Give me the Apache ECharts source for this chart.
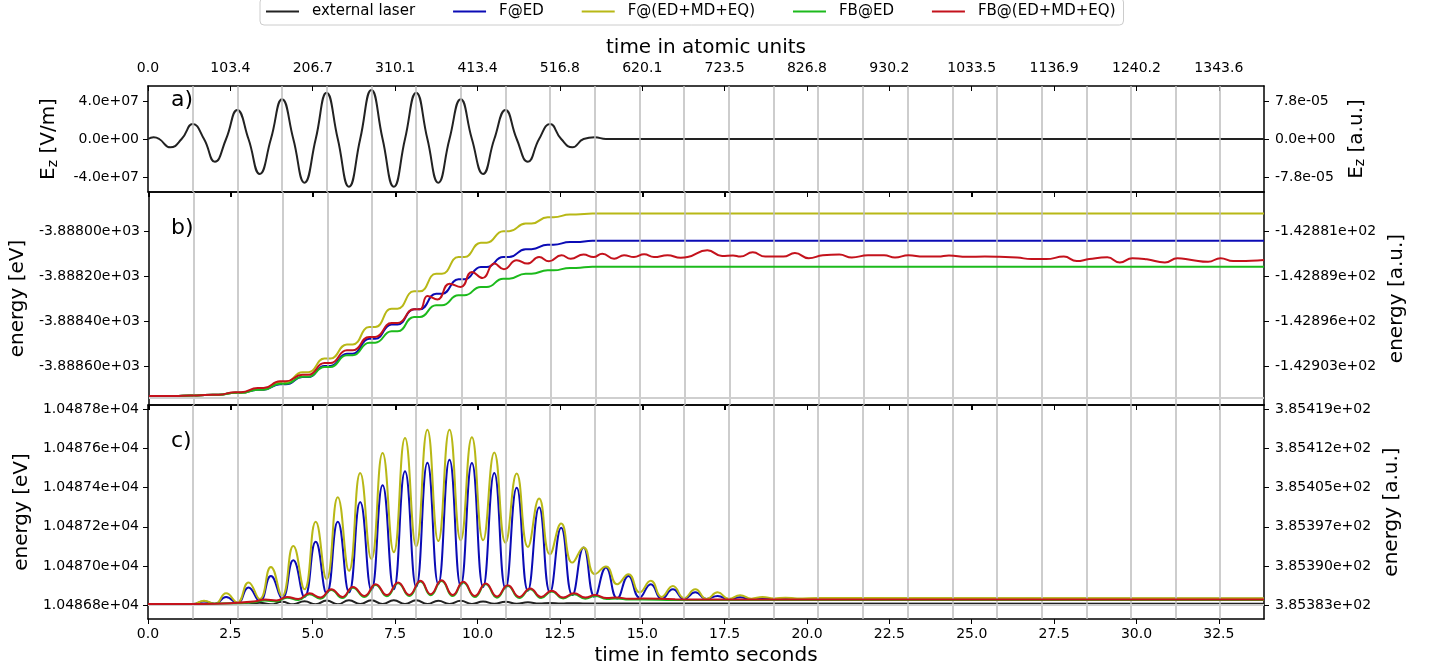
<!DOCTYPE html>
<html><head><meta charset="utf-8">
<script src="https://cdn.jsdelivr.net/npm/echarts@6/dist/echarts.min.js"></script>
<style>html,body{margin:0;padding:0;background:#fff}#c{width:1434px;height:669px}</style>
</head><body><div id="c"></div><script>
const FONT = 'DejaVu Sans';
const T_MAX = 33.87;
const seriesNames = ['external laser', 'F@ED', 'F@(ED+MD+EQ)', 'FB@ED', 'FB@(ED+MD+EQ)'];
const seriesColors = ['#222222', '#0b0bb5', '#b8b816', '#1cba1c', '#c4121c'];

// x ticks (fs) and their atomic-unit labels
const fsTicks = [0, 2.5, 5, 7.5, 10, 12.5, 15, 17.5, 20, 22.5, 25, 27.5, 30, 32.5];
const fsTickLabels = ['0.0','2.5','5.0','7.5','10.0','12.5','15.0','17.5','20.0','22.5','25.0','27.5','30.0','32.5'];
const auTickLabels = ['0.0','103.4','206.7','310.1','413.4','516.8','620.1','723.5','826.8','930.2','1033.5','1136.9','1240.2','1343.6'];
// vertical reference lines (laser cycles, fs)
const cycleTimes = [1.36, 2.71, 4.07, 5.42, 6.78, 8.14, 9.49, 10.85, 12.20, 13.56, 14.92, 16.27, 17.63, 18.98, 20.34, 21.70, 23.05, 24.41, 25.76, 27.12, 28.48, 29.83, 31.19, 32.54];

// y ticks
const aTickVals = [-4e7, 0, 4e7];
const aLeftLabels = ['-4.0e+07', '0.0e+00', '4.0e+07'];
const aRightLabels = ['-7.8e-05', '0.0e+00', '7.8e-05'];
const bTickVals = [-3888.6, -3888.4, -3888.2, -3888.0];
const bLeftLabels = ['-3.88860e+03', '-3.88840e+03', '-3.88820e+03', '-3.88800e+03'];
const bRightLabels = ['-1.42903e+02', '-1.42896e+02', '-1.42889e+02', '-1.42881e+02'];
const cTickVals = [10486.8, 10487.0, 10487.2, 10487.4, 10487.6, 10487.8];
const cLeftLabels = ['1.04868e+04', '1.04870e+04', '1.04872e+04', '1.04874e+04', '1.04876e+04', '1.04878e+04'];
const cRightLabels = ['3.85383e+02', '3.85390e+02', '3.85397e+02', '3.85405e+02', '3.85412e+02', '3.85419e+02'];

// panel a: external laser field E_z [V/m] (t in fs)
const laserA = [[0,0],[0.17,0.18e7],[0.34,0],[0.68,-0.88e7],[1.02,0],[1.36,1.58e7],[1.70,0],[2.03,-2.39e7],[2.37,0],[2.71,3.05e7],[3.05,0],[3.39,-3.68e7],[3.73,0],[4.07,4.18e7],[4.41,0],[4.75,-4.6e7],[5.09,0],[5.42,4.87e7],[5.76,0],[6.10,-5.02e7],[6.44,0],[6.78,5.16e7],[7.12,0],[7.46,-5.02e7],[7.80,0],[8.14,4.87e7],[8.48,0],[8.81,-4.6e7],[9.15,0],[9.49,4.18e7],[9.83,0],[10.17,-3.68e7],[10.51,0],[10.85,3.05e7],[11.19,0],[11.53,-2.39e7],[11.87,0],[12.20,1.58e7],[12.54,0],[12.88,-0.88e7],[13.22,0],[13.56,0.18e7],[13.90,0],[33.87,0]];

// panel b: plateau levels per half-cycle (eV)
const bStepT = [0, 0.68, 1.36, 2.03, 2.71, 3.39, 4.07, 4.75, 5.42, 6.10, 6.78, 7.46, 8.14, 8.81, 9.49, 10.17, 10.85, 11.53, 12.20, 12.88, 13.56];
const yellowB = [-3888.733, -3888.733, -3888.731, -3888.727, -3888.719, -3888.703, -3888.671, -3888.627, -3888.567, -3888.504, -3888.427, -3888.345, -3888.268, -3888.190, -3888.116, -3888.052, -3888.001, -3887.967, -3887.939, -3887.927, -3887.923];
const blueB = [-3888.733, -3888.733, -3888.731, -3888.727, -3888.719, -3888.705, -3888.681, -3888.649, -3888.600, -3888.545, -3888.479, -3888.415, -3888.348, -3888.279, -3888.215, -3888.160, -3888.116, -3888.081, -3888.061, -3888.049, -3888.044];
const greenB = [-3888.733, -3888.733, -3888.731, -3888.727, -3888.719, -3888.705, -3888.679, -3888.648, -3888.604, -3888.552, -3888.496, -3888.446, -3888.382, -3888.330, -3888.286, -3888.249, -3888.212, -3888.190, -3888.175, -3888.164, -3888.159];
const redBStep = [-3888.733, -3888.733, -3888.731, -3888.727, -3888.716, -3888.698, -3888.668, -3888.639, -3888.587, -3888.530, -3888.471, -3888.409, -3888.348];
const redBTail = [[8.46,-3888.289],[8.76,-3888.304],[9.13,-3888.234],[9.47,-3888.249],[9.81,-3888.182],[10.13,-3888.209],[10.49,-3888.145],[10.78,-3888.170],[11.17,-3888.130],[11.49,-3888.145],[11.85,-3888.116],[12.15,-3888.135],[12.53,-3888.108],[12.81,-3888.123],[13.2,-3888.105],[13.5,-3888.116],[13.77,-3888.101],[14.13,-3888.123],[14.43,-3888.108],[14.73,-3888.116],[15.04,-3888.104],[15.34,-3888.116],[15.75,-3888.108],[16.15,-3888.119],[16.36,-3888.116],[16.96,-3888.086],[17.41,-3888.111],[17.74,-3888.109],[17.96,-3888.114],[18.34,-3888.095],[18.72,-3888.114],[19.27,-3888.114],[19.62,-3888.098],[20.04,-3888.121],[20.47,-3888.108],[20.97,-3888.105],[21.35,-3888.118],[21.84,-3888.108],[22.33,-3888.108],[22.66,-3888.118],[23.07,-3888.108],[23.53,-3888.114],[23.97,-3888.114],[24.3,-3888.109],[24.85,-3888.115],[25.39,-3888.114],[25.83,-3888.115],[26.37,-3888.118],[26.81,-3888.125],[27.25,-3888.125],[27.79,-3888.114],[28.18,-3888.134],[28.56,-3888.125],[29.11,-3888.117],[29.49,-3888.140],[29.87,-3888.121],[30.31,-3888.126],[30.86,-3888.140],[31.24,-3888.121],[31.67,-3888.129],[32.17,-3888.137],[32.55,-3888.121],[32.93,-3888.134],[33.48,-3888.132],[33.87,-3888.129]];
const bBaseline = -3888.737;

// panel c (eV)
const blackC = [[0,10486.805],[2.03,10486.805],[2.37,10486.804],[2.71,10486.809],[3.05,10486.804],[3.39,10486.812],[3.73,10486.804],[4.07,10486.817],[4.41,10486.804],[4.75,10486.820],[5.09,10486.804],[5.42,10486.824],[5.76,10486.804],[6.10,10486.825],[6.44,10486.805],[6.78,10486.825],[7.12,10486.805],[7.46,10486.825],[7.80,10486.805],[8.14,10486.825],[8.48,10486.805],[8.81,10486.822],[9.15,10486.806],[9.49,10486.822],[9.83,10486.806],[10.17,10486.818],[10.51,10486.807],[10.85,10486.817],[11.19,10486.807],[11.53,10486.814],[11.87,10486.808],[12.20,10486.811],[12.54,10486.808],[12.88,10486.810],[13.3,10486.808],[33.87,10486.807]];
const blueC = [[0,10486.805],[0.68,10486.805],[1.36,10486.805],[1.70,10486.819],[2.03,10486.806],[2.37,10486.842],[2.71,10486.810],[3.05,10486.890],[3.39,10486.820],[3.73,10486.949],[4.07,10486.834],[4.41,10487.029],[4.75,10486.842],[5.09,10487.124],[5.42,10486.860],[5.76,10487.226],[6.10,10486.865],[6.44,10487.326],[6.78,10486.876],[7.12,10487.412],[7.46,10486.881],[7.80,10487.483],[8.14,10486.893],[8.48,10487.527],[8.81,10486.907],[9.15,10487.543],[9.49,10486.898],[9.83,10487.526],[10.17,10486.893],[10.51,10487.475],[10.85,10486.885],[11.19,10487.399],[11.53,10486.873],[11.87,10487.300],[12.20,10486.865],[12.54,10487.195],[12.88,10486.851],[13.22,10487.094],[13.56,10486.842],[13.90,10486.992],[14.24,10486.834],[14.58,10486.949],[14.92,10486.839],[15.26,10486.907],[15.59,10486.831],[15.93,10486.881],[16.27,10486.831],[16.61,10486.865],[16.95,10486.831],[17.29,10486.847],[17.63,10486.829],[17.97,10486.840],[18.31,10486.829],[18.65,10486.836],[19.00,10486.830],[19.35,10486.834],[19.70,10486.831],[20.40,10486.832],[33.87,10486.832]];
const yellowC = [[0,10486.805],[0.68,10486.805],[1.36,10486.805],[1.70,10486.822],[2.03,10486.806],[2.37,10486.860],[2.71,10486.814],[3.05,10486.916],[3.39,10486.831],[3.73,10486.995],[4.07,10486.847],[4.41,10487.102],[4.75,10486.881],[5.09,10487.226],[5.42,10486.932],[5.76,10487.351],[6.10,10486.975],[6.44,10487.475],[6.78,10487.035],[7.12,10487.577],[7.46,10487.070],[7.80,10487.653],[8.14,10487.100],[8.48,10487.696],[8.81,10487.127],[9.15,10487.696],[9.49,10487.131],[9.83,10487.657],[10.17,10487.131],[10.51,10487.580],[10.85,10487.119],[11.19,10487.472],[11.53,10487.097],[11.87,10487.345],[12.20,10487.060],[12.54,10487.217],[12.88,10487.017],[13.22,10487.094],[13.56,10486.958],[13.90,10486.997],[14.24,10486.907],[14.58,10486.958],[14.92,10486.865],[15.26,10486.924],[15.59,10486.842],[15.93,10486.898],[16.27,10486.836],[16.61,10486.881],[16.95,10486.831],[17.29,10486.865],[17.63,10486.832],[17.97,10486.850],[18.31,10486.833],[18.65,10486.842],[19.00,10486.834],[19.35,10486.838],[19.70,10486.834],[20.40,10486.836],[33.87,10486.835]];
const greenC = [[0,10486.805],[1.5,10486.806],[2.5,10486.809],[3.2,10486.815],[3.55,10486.824],[3.9,10486.819],[4.22,10486.838],[4.56,10486.826],[4.90,10486.856],[5.23,10486.833],[5.56,10486.877],[5.90,10486.836],[6.22,10486.889],[6.57,10486.841],[6.91,10486.903],[7.25,10486.845],[7.59,10486.912],[7.93,10486.846],[8.27,10486.920],[8.58,10486.850],[8.91,10486.923],[9.25,10486.846],[9.57,10486.915],[9.92,10486.841],[10.25,10486.906],[10.59,10486.838],[10.92,10486.898],[11.27,10486.836],[11.60,10486.881],[11.93,10486.836],[12.25,10486.869],[12.60,10486.834],[12.93,10486.856],[13.27,10486.833],[13.57,10486.847],[13.92,10486.831],[14.23,10486.834],[14.6,10486.828],[15.0,10486.829],[16.0,10486.826],[17.0,10486.826],[33.87,10486.826]];
const redC = [[0,10486.805],[1.5,10486.806],[2.5,10486.810],[3.2,10486.818],[3.55,10486.828],[3.9,10486.824],[4.22,10486.842],[4.56,10486.831],[4.90,10486.860],[5.23,10486.839],[5.56,10486.881],[5.90,10486.842],[6.22,10486.893],[6.57,10486.847],[6.91,10486.907],[7.25,10486.851],[7.59,10486.916],[7.93,10486.852],[8.27,10486.924],[8.58,10486.856],[8.91,10486.927],[9.25,10486.852],[9.57,10486.919],[9.92,10486.847],[10.25,10486.910],[10.59,10486.844],[10.92,10486.902],[11.27,10486.842],[11.60,10486.885],[11.93,10486.842],[12.25,10486.873],[12.60,10486.839],[12.93,10486.860],[13.27,10486.839],[13.57,10486.851],[13.92,10486.836],[14.23,10486.839],[14.6,10486.832],[15.0,10486.834],[16.0,10486.830],[17.0,10486.829],[33.87,10486.828]];
const cBaseline = 10486.803;

// ---- build ----
function stairs(ts, vs, half) {
  const out = [];
  for (let i = 0; i < vs.length; i++) {
    if (ts[i] === 0) out.push([0, vs[i]]);
    else { out.push([ts[i] - half, vs[i]]); out.push([ts[i] + half, vs[i]]); }
  }
  return out;
}
const HALF = 0.09;
const yellowBData = stairs(bStepT, yellowB, HALF).concat([[T_MAX, yellowB[yellowB.length - 1]]]);
const blueBData = stairs(bStepT, blueB, HALF).concat([[T_MAX, blueB[blueB.length - 1]]]);
const greenBData = stairs(bStepT, greenB, HALF).concat([[T_MAX, greenB[greenB.length - 1]]]);
const redBData = stairs(bStepT, redBStep, HALF).concat(redBTail);

function lookup(vals, labels, tol) {
  return function (v) {
    for (let i = 0; i < vals.length; i++) if (Math.abs(vals[i] - v) < tol) return labels[i];
    return '';
  };
}
const tickStyle = { color: '#000', width: 1 };
const lblStyle = { fontFamily: FONT, fontSize: 14, color: '#000' };
const nameStyle = { fontFamily: FONT, fontSize: 20, color: '#000',
  rich: { e: { fontFamily: FONT, fontSize: 20, color: '#000' }, s: { fontFamily: FONT, fontSize: 14, color: '#000', padding: [9, 0, 0, 0] } } };

function xAx(grid, pos, opts) {
  return Object.assign({
    type: 'value', gridIndex: grid, position: pos, min: 0, max: T_MAX,
    axisLine: { show: true, onZero: false, lineStyle: { color: '#000', width: 1.5 } },
    axisTick: { show: true, customValues: fsTicks, length: 5, inside: pos === 'top', lineStyle: tickStyle },
    axisLabel: { show: false },
    splitLine: { show: false }
  }, opts || {});
}
function yAx(grid, pos, min, max, vals, labels, tol, name, gap) {
  return {
    type: 'value', gridIndex: grid, position: pos, min: min, max: max,
    axisLine: { show: true, onZero: false, lineStyle: { color: '#000', width: 1.5 } },
    axisTick: { show: true, customValues: vals, length: 5, lineStyle: tickStyle },
    axisLabel: Object.assign({ customValues: vals, formatter: lookup(vals, labels, tol), margin: pos === 'left' ? 9 : 11 }, lblStyle),
    splitLine: { show: false },
    name: name, nameLocation: 'middle', nameRotate: 90, nameGap: gap, nameTextStyle: nameStyle
  };
}

const grids = [
  { left: 148, right: 170, top: 86, height: 106 },
  { left: 148, right: 170, top: 192, height: 213 },
  { left: 148, right: 170, top: 405, height: 214 }
];
const xAxes = [
  xAx(0, 'top', {
    axisLabel: Object.assign({ show: true, customValues: fsTicks, formatter: lookup(fsTicks, auTickLabels, 1e-6), margin: 11 }, lblStyle),
    name: 'time in atomic units', nameLocation: 'middle', nameGap: 28, nameTextStyle: { fontFamily: FONT, fontSize: 20, color: '#000' }
  }),
  xAx(0, 'bottom'),
  xAx(1, 'top'),
  xAx(1, 'bottom'),
  xAx(2, 'top'),
  xAx(2, 'bottom', {
    axisLabel: Object.assign({ show: true, customValues: fsTicks, formatter: lookup(fsTicks, fsTickLabels, 1e-6), margin: 8 }, lblStyle),
    name: 'time in femto seconds', nameLocation: 'middle', nameGap: 27, nameTextStyle: { fontFamily: FONT, fontSize: 20, color: '#000' }
  })
];
const yAxes = [
  yAx(0, 'left', -5.58e7, 5.58e7, aTickVals, aLeftLabels, 1e5, '{e|E}{s|z}{e| [V/m]}', 88),
  yAx(0, 'right', -5.58e7, 5.58e7, aTickVals, aRightLabels, 1e5, '{e|E}{s|z}{e| [a.u.]}', 80),
  yAx(1, 'left', -3888.773, -3887.827, bTickVals, bLeftLabels, 1e-3, 'energy [eV]', 120),
  yAx(1, 'right', -3888.773, -3887.827, bTickVals, bRightLabels, 1e-3, 'energy [a.u.]', 120),
  yAx(2, 'left', 10486.729, 10487.822, cTickVals, cLeftLabels, 1e-3, 'energy [eV]', 116),
  yAx(2, 'right', 10486.729, 10487.822, cTickVals, cRightLabels, 1e-3, 'energy [a.u.]', 114)
];

function helper(xi, yi, hline) {
  const d = cycleTimes.map(t => ({ xAxis: t }));
  const s = {
    type: 'line', name: '_ref', xAxisIndex: xi, yAxisIndex: yi, data: [], silent: true, z: 1,
    markLine: { silent: true, symbol: ['none', 'none'], label: { show: false }, animation: false,
      lineStyle: { color: '#bdbdbd', width: 1.5, type: 'solid' }, data: d }
  };
  if (hline !== undefined) d.push({ yAxis: hline, lineStyle: { color: '#cfcfcf', width: 2, type: 'solid' } });
  return s;
}
function line(idx, xi, yi, data, smooth) {
  return {
    type: 'line', name: seriesNames[idx], xAxisIndex: xi, yAxisIndex: yi, data: data,
    showSymbol: false, symbol: 'none', smooth: smooth, z: 2 + idx,
    lineStyle: { color: seriesColors[idx], width: 2 }, itemStyle: { color: seriesColors[idx] },
    emphasis: { disabled: true }, animation: false
  };
}

const series = [
  helper(1, 0),
  helper(3, 2, bBaseline),
  helper(5, 4, cBaseline),
  line(0, 1, 0, laserA, 0.5),
  line(1, 3, 2, blueBData, 0.5),
  line(2, 3, 2, yellowBData, 0.5),
  line(3, 3, 2, greenBData, 0.5),
  line(4, 3, 2, redBData, 0.5),
  line(0, 5, 4, blackC, 0.5),
  line(1, 5, 4, blueC, 0.5),
  line(2, 5, 4, yellowC, 0.5),
  line(3, 5, 4, greenC, 0.5),
  line(4, 5, 4, redC, 0.5)
];

const chart = echarts.init(document.getElementById('c'), null, { renderer: 'canvas' });
chart.setOption({
  animation: false,
  backgroundColor: '#fff',
  textStyle: { fontFamily: FONT },
  legend: {
    data: seriesNames, left: 260, top: -2, icon: 'rect', itemWidth: 33, itemHeight: 2, itemGap: 38,
    padding: [6, 8, 6, 6], borderColor: '#cccccc', borderWidth: 1, borderRadius: 4, backgroundColor: '#fff',
    textStyle: { fontFamily: FONT, fontSize: 15, color: '#000', padding: [0, 0, 0, 8] }
  },
  grid: grids,
  xAxis: xAxes,
  yAxis: yAxes,
  series: series,
  graphic: [
    { type: 'text', left: 171, top: 89, style: { text: 'a)', font: '22px "DejaVu Sans"', fill: '#000' } },
    { type: 'text', left: 171, top: 217, style: { text: 'b)', font: '22px "DejaVu Sans"', fill: '#000' } },
    { type: 'text', left: 171, top: 430, style: { text: 'c)', font: '22px "DejaVu Sans"', fill: '#000' } }
  ]
});
</script></body></html>
